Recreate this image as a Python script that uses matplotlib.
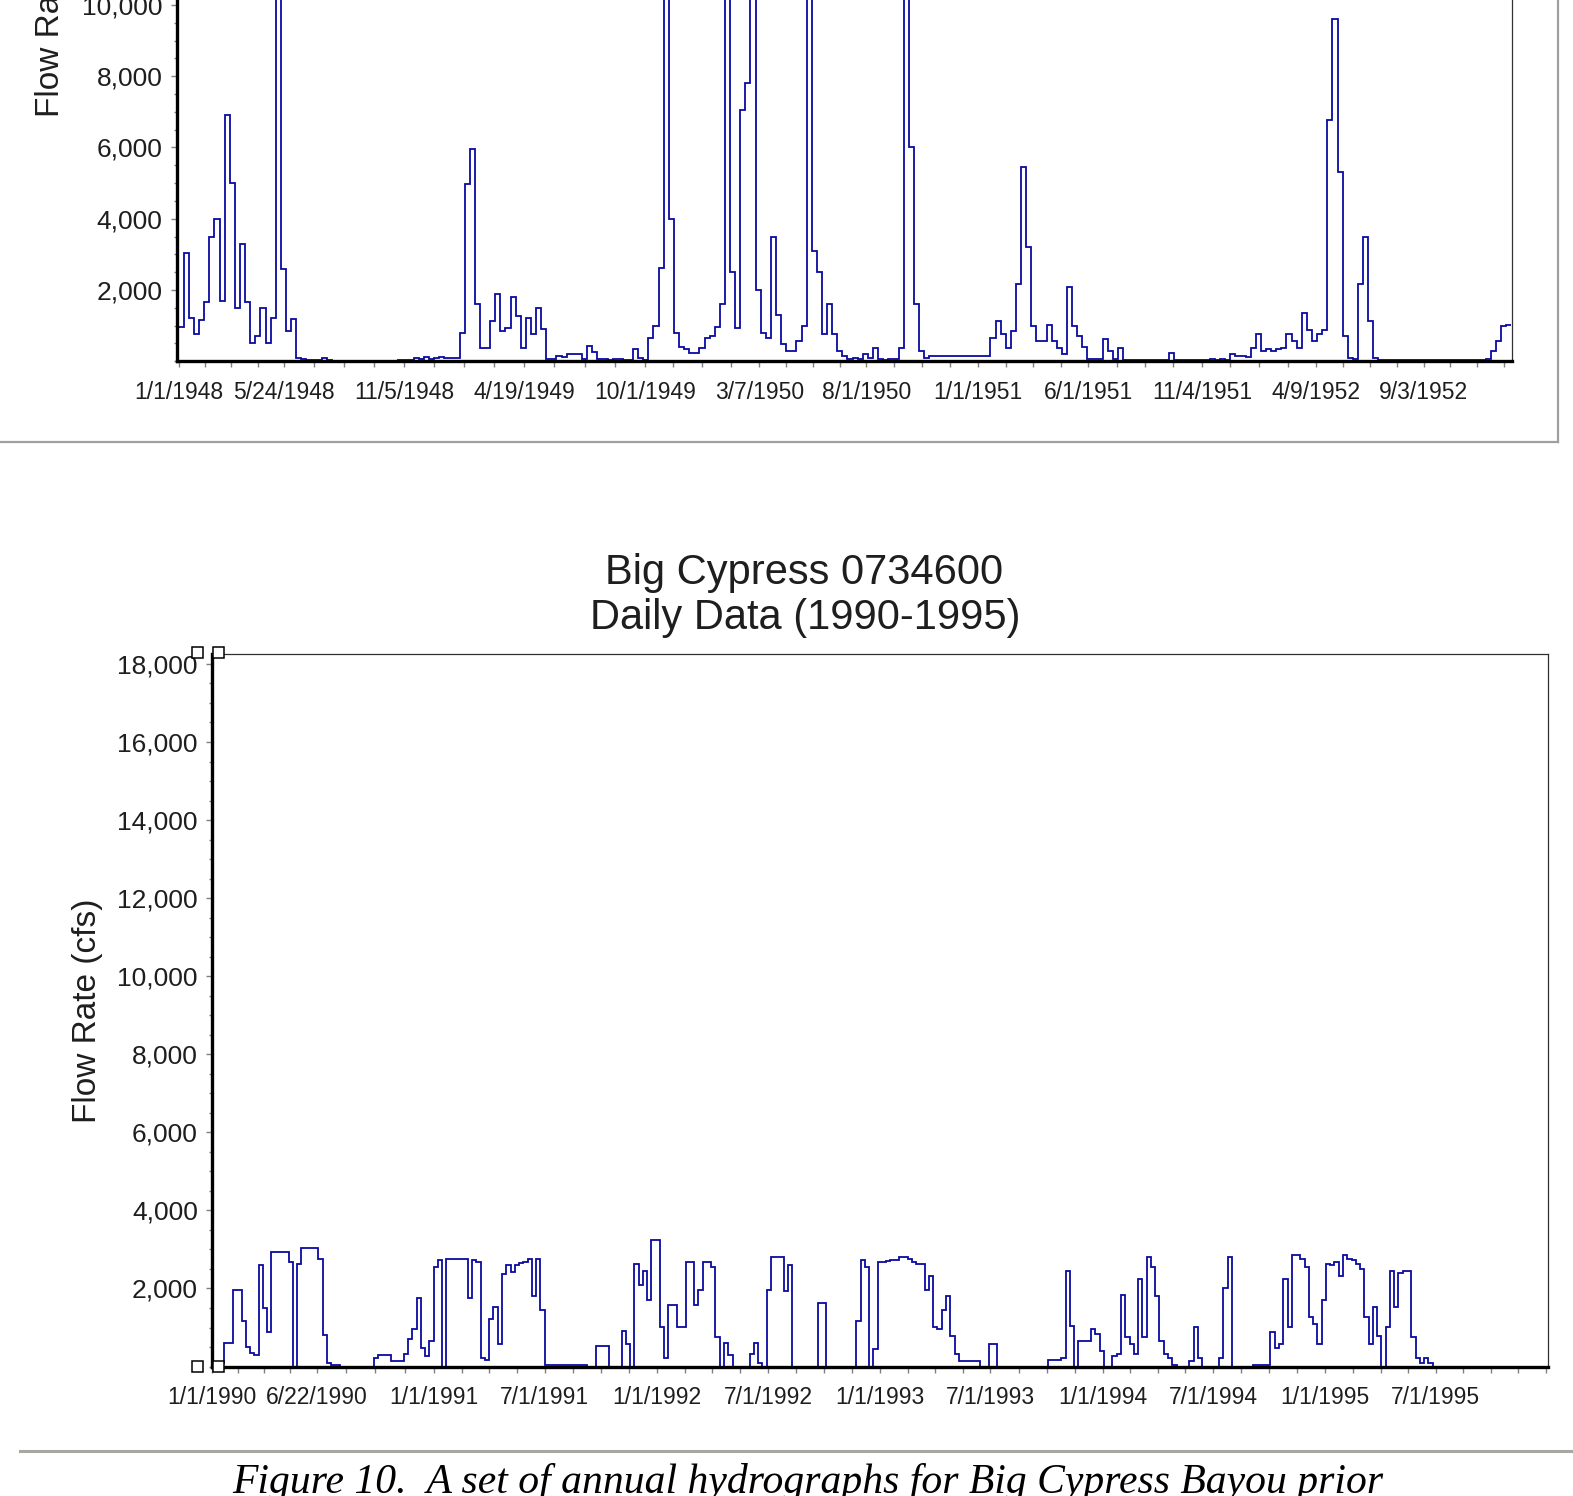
import numpy as np
import pandas as pd
import matplotlib
matplotlib.use("Agg")
import matplotlib.pyplot as plt
import matplotlib.dates as mdates
from matplotlib.lines import Line2D
from matplotlib.patches import Rectangle
from matplotlib.ticker import MultipleLocator

W, H = 1573, 1496
DPI = 100
# positions below were measured on a 1568x1491 view of the page
RW, RH = 1568, 1491

# weekly mean flow (cfs), 1948-1952
flow_1948 = [
    950, 3050, 1200, 750, 1150, 1650, 3500, 4000, 1700, 6900,
    5000, 1500, 3300, 1650, 500, 700, 1500, 500, 1200, 11500,
    2600, 850, 1175, 100, 60, 40, 30, 30, 80, 20,
    10, 10, 10, 10, 10, 10, 10, 10, 10, 10,
    10, 10, 10, 20, 20, 30, 80, 60, 120, 60,
    80, 120, 80, 100, 80, 800, 4980, 5970, 1600, 375,
    375, 1130, 1880, 850, 940, 1790, 1270, 375, 1220, 750,
    1500, 900, 50, 60, 150, 120, 190, 190, 200, 50,
    420, 250, 60, 50, 40, 50, 60, 40, 30, 330,
    100, 20, 660, 990, 2630, 12500, 4000, 800, 400, 350,
    235, 235, 380, 660, 700, 950, 1600, 14000, 2500, 940,
    7050, 7800, 12000, 2000, 800, 660, 3480, 1300, 470, 280,
    280, 560, 990, 15000, 3100, 2500, 750, 1600, 750, 300,
    150, 50, 80, 50, 190, 100, 375, 50, 40, 50,
    60, 375, 13000, 6020, 1600, 280, 100, 140, 140, 140,
    140, 140, 140, 140, 140, 140, 140, 140, 140, 660,
    1130, 750, 375, 850, 2160, 5450, 3200, 1000, 560, 560,
    1030, 560, 375, 190, 2070, 1000, 700, 400, 50, 50,
    50, 610, 300, 50, 375, 30, 20, 20, 20, 20,
    20, 20, 20, 20, 235, 20, 20, 20, 20, 20,
    20, 20, 60, 20, 60, 20, 190, 140, 140, 120,
    375, 750, 280, 330, 280, 330, 375, 750, 560, 375,
    1360, 890, 560, 750, 890, 6770, 9600, 5300, 700, 100,
    50, 2160, 3480, 1130, 100, 40, 30, 20, 20, 20,
    20, 20, 20, 20, 20, 20, 20, 20, 20, 20,
    20, 20, 20, 20, 20, 20, 50, 280, 560, 990,
    1030,
]

# weekly mean flow (cfs), 1990-1995
flow_1990 = [
    50, 90, 90, 614, 614, 1950, 1950, 1180, 500, 350,
    300, 2590, 1500, 880, 2940, 2940, 2940, 2940, 2680, 0,
    2630, 3030, 3030, 3030, 3030, 2760, 800, 90, 44, 44,
    0, 0, 0, 0, 0, 0, 0, 0, 220, 290,
    290, 290, 130, 130, 130, 310, 700, 960, 1750, 480,
    260, 660, 2540, 2720, 0, 2760, 2760, 2760, 2760, 2760,
    1750, 2720, 2680, 220, 175, 1230, 1530, 570, 2370, 2590,
    2410, 2590, 2660, 2680, 2760, 1800, 2760, 1450, 50, 50,
    50, 50, 50, 50, 50, 50, 50, 50, 0, 0,
    525, 525, 525, 0, 0, 0, 920, 570, 0, 2630,
    2100, 2460, 1710, 3240, 3240, 1010, 220, 1580, 1580, 1010,
    1010, 2680, 2680, 1580, 1970, 2680, 2680, 2540, 750, 0,
    610, 300, 0, 0, 0, 0, 310, 610, 90, 0,
    1970, 2800, 2800, 2800, 1930, 2590, 0, 0, 0, 0,
    0, 0, 1620, 1620, 0, 0, 0, 0, 0, 0,
    0, 1180, 2720, 2540, 0, 440, 2680, 2680, 2700, 2720,
    2720, 2800, 2800, 2760, 2680, 2630, 2630, 1970, 2320, 1010,
    960, 1450, 1800, 790, 310, 130, 130, 130, 130, 130,
    0, 0, 570, 570, 0, 0, 0, 0, 0, 0,
    0, 0, 0, 0, 0, 0, 175, 175, 175, 220,
    2460, 1050, 0, 660, 660, 660, 960, 830, 400, 0,
    0, 260, 310, 1840, 750, 570, 310, 2240, 750, 2800,
    2540, 1800, 660, 310, 220, 44, 0, 0, 0, 130,
    1010, 220, 0, 0, 0, 0, 220, 2020, 2800, 0,
    0, 0, 0, 0, 44, 44, 44, 44, 880, 480,
    570, 2240, 1010, 2850, 2850, 2760, 2540, 1270, 1100, 570,
    1710, 2630, 2590, 2680, 2320, 2850, 2760, 2720, 2630, 2500,
    1270, 570, 1530, 790, 0, 1010, 2460, 1530, 2400, 2460,
    2460, 750, 220, 90, 220, 90, 0, 0, 0, 0,
    0, 0, 0, 0, 0, 0, 0, 0, 0, 0,
    0, 0, 0, 0, 0, 0, 0, 0, 0, 0,
    0, 0, 0,
]

ticks_1948 = ["1948-01-01", "1948-05-24", "1948-11-05", "1949-04-19",
              "1949-10-01", "1950-03-07", "1950-08-01", "1951-01-01",
              "1951-06-01", "1951-11-04", "1952-04-09", "1952-09-03"]
ticks_1990 = ["1990-01-01", "1990-06-22", "1991-01-01", "1991-07-01",
              "1992-01-01", "1992-07-01", "1993-01-01", "1993-07-01",
              "1994-01-01", "1994-07-01", "1995-01-01", "1995-07-01"]

LINE = "#0a0aa0"
TICK = "#808080"
TXT = "#1e1e1e"

plt.rcParams["font.family"] = ["Liberation Sans", "DejaVu Sans"]


def fx(px):
    return px / RW


def fy(py):
    return 1 - py / RH


def week_edges(start, n):
    edges = pd.date_range(start, periods=n + 1, freq="7D")
    return mdates.date2num(edges.to_pydatetime())


def style_axes(ax, tick_dates, xlim, ymax):
    """dress an axes like the old spreadsheet chart"""
    x0, x1 = mdates.date2num(pd.to_datetime(xlim).to_pydatetime())
    ax.set_xlim(x0, x1)
    ax.set_ylim(0, ymax)

    for side in ["top", "right"]:
        ax.spines[side].set_linewidth(0.9)
        ax.spines[side].set_color("#303030")
    for side in ["left", "bottom"]:
        ax.spines[side].set_linewidth(2.4)
        ax.spines[side].set_color("black")

    yt = np.arange(2000, ymax + 1, 2000)
    ax.set_yticks(yt)
    ax.set_yticklabels([f"{v:,}" for v in yt])
    ax.yaxis.set_minor_locator(MultipleLocator(500))

    dts = pd.to_datetime(tick_dates)
    major = mdates.date2num(dts.to_pydatetime())
    ax.set_xticks(major)
    ax.set_xticklabels([f"{d.month}/{d.day}/{d.year}" for d in dts])
    minor = []
    for a, b in zip(major[:-1], major[1:]):
        minor.extend(np.linspace(a, b, 5)[1:-1])
    step = (major[-1] - major[-2]) / 4
    m = major[-1] + step
    while m <= x1 + 1:
        minor.append(m)
        m += step
    ax.set_xticks(minor, minor=True)

    ax.tick_params(axis="both", which="both", direction="out", color=TICK,
                   width=1.0, labelcolor=TXT)
    ax.tick_params(axis="x", which="major", length=4.5, pad=9.5, labelsize=16.5)
    ax.tick_params(axis="x", which="minor", length=4.0)
    ax.tick_params(axis="y", which="major", length=4.5, pad=5.5, labelsize=19)
    ax.tick_params(axis="y", which="minor", length=2.2)
    ax.set_ylabel("Flow Rate (cfs)", fontsize=24, color=TXT)


fig = plt.figure(figsize=(W / DPI, H / DPI), dpi=DPI)

# upper chart (1948-1952) is cropped by the page, its top runs off the image
ax1 = fig.add_axes([fx(176), fy(360), (1507 - 176) / RW, 710 / RH])
ax1.stairs(flow_1948, week_edges("1948-01-01", len(flow_1948)),
           baseline=None, color=LINE, lw=1.3)
style_axes(ax1, ticks_1948, ["1947-12-29", "1953-01-02"], 20000)
ax1.yaxis.set_label_coords(-0.083, 0.5)

# lower chart (1990-1995)
ax2 = fig.add_axes([fx(211), fy(1362), (1543 - 211) / RW, 710 / RH])
ax2.stairs(flow_1990, week_edges("1990-01-01", len(flow_1990)),
           baseline=None, color=LINE, lw=1.3)
style_axes(ax2, ticks_1990, ["1990-01-01", "1996-01-01"], 18250)
ax2.yaxis.set_label_coords(-0.081, 0.5)

fig.text(fx(802), fy(582), "Big Cypress 0734600", ha="center", va="baseline",
         fontsize=30, color=TXT)
fig.text(fx(803), fy(627), "Daily Data (1990-1995)", ha="center", va="baseline",
         fontsize=30, color=TXT)

# selection handles on the lower chart
for cx, cy in [(197, 650), (218, 650), (197, 1362), (218, 1362)]:
    fig.add_artist(Rectangle((fx(cx - 5.5), fy(cy + 5.5)), 11 / RW, 11 / RH,
                             transform=fig.transFigure, facecolor="white",
                             edgecolor="black", lw=1.1, zorder=10))

# frame of the pasted upper chart
fig.add_artist(Line2D([0, fx(1553)], [fy(441), fy(441)], color="#a0a0a0", lw=1.6))
fig.add_artist(Line2D([fx(1553), fx(1553)], [fy(441), 1.0], color="#a0a0a0", lw=1.6))

# page rule and caption
fig.add_artist(Line2D([fx(20), 1.0], [fy(1446), fy(1446)], color="#a8a8a0", lw=2.2))
fig.text(fx(805), fy(1488),
         "Figure 10.  A set of annual hydrographs for Big Cypress Bayou prior",
         ha="center", va="baseline", fontsize=30, style="italic",
         family=["Liberation Serif", "DejaVu Serif"], color="black")

fig.savefig("out.png", dpi=DPI)
